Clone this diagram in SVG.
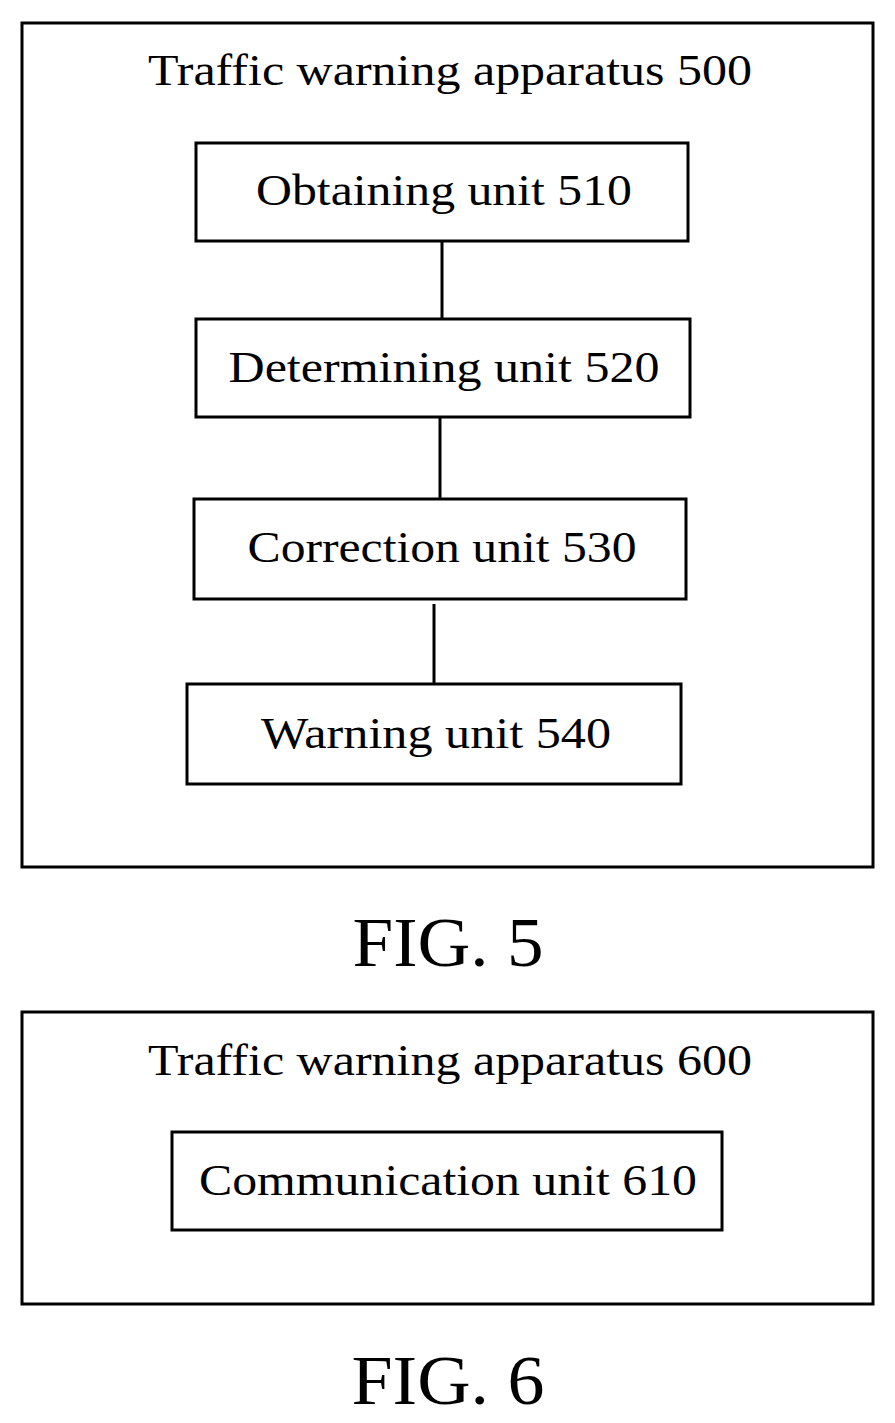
<svg xmlns="http://www.w3.org/2000/svg" width="895" height="1423" viewBox="0 0 895 1423">
<style>
.b{fill:#fff;stroke:#000;stroke-width:3}
.t{font-family:"Liberation Serif",serif;font-size:44px;fill:#000;text-anchor:middle}
.f{font-family:"Liberation Serif",serif;font-size:70px;fill:#000;text-anchor:middle}
.c{stroke:#000;stroke-width:3;fill:none}
</style>
<rect width="895" height="1423" fill="#fff"/>
<g id="apparatus500"><rect class="b" x="22" y="23" width="851" height="844"/><text class="t" x="450" y="85" textLength="604" lengthAdjust="spacingAndGlyphs">Traffic warning apparatus 500</text></g>
<g id="connectors">
<line class="c" x1="442" y1="241" x2="442" y2="319"/>
<line class="c" x1="440" y1="417" x2="440" y2="499"/>
<line class="c" x1="434" y1="604" x2="434" y2="684"/>
</g>
<g id="unit510"><rect class="b" x="196" y="143" width="492" height="98"/><text class="t" x="444" y="205" textLength="376" lengthAdjust="spacingAndGlyphs">Obtaining unit 510</text></g>
<g id="unit520"><rect class="b" x="196" y="319" width="494" height="98"/><text class="t" x="444" y="382" textLength="431" lengthAdjust="spacingAndGlyphs">Determining unit 520</text></g>
<g id="unit530"><rect class="b" x="194" y="499" width="492" height="100"/><text class="t" x="442" y="562" textLength="389" lengthAdjust="spacingAndGlyphs">Correction unit 530</text></g>
<g id="unit540"><rect class="b" x="187" y="684" width="494" height="100"/><text class="t" x="436" y="748" textLength="350" lengthAdjust="spacingAndGlyphs">Warning unit 540</text></g>
<text class="f" x="448" y="966" textLength="191" lengthAdjust="spacingAndGlyphs">FIG. 5</text>
<g id="apparatus600"><rect class="b" x="22" y="1012" width="851" height="292"/><text class="t" x="450" y="1075" textLength="604" lengthAdjust="spacingAndGlyphs">Traffic warning apparatus 600</text></g>
<g id="unit610"><rect class="b" x="172" y="1132" width="550" height="98"/><text class="t" x="448" y="1195" textLength="498" lengthAdjust="spacingAndGlyphs">Communication unit 610</text></g>
<text class="f" x="448" y="1404" textLength="193" lengthAdjust="spacingAndGlyphs">FIG. 6</text>
</svg>
